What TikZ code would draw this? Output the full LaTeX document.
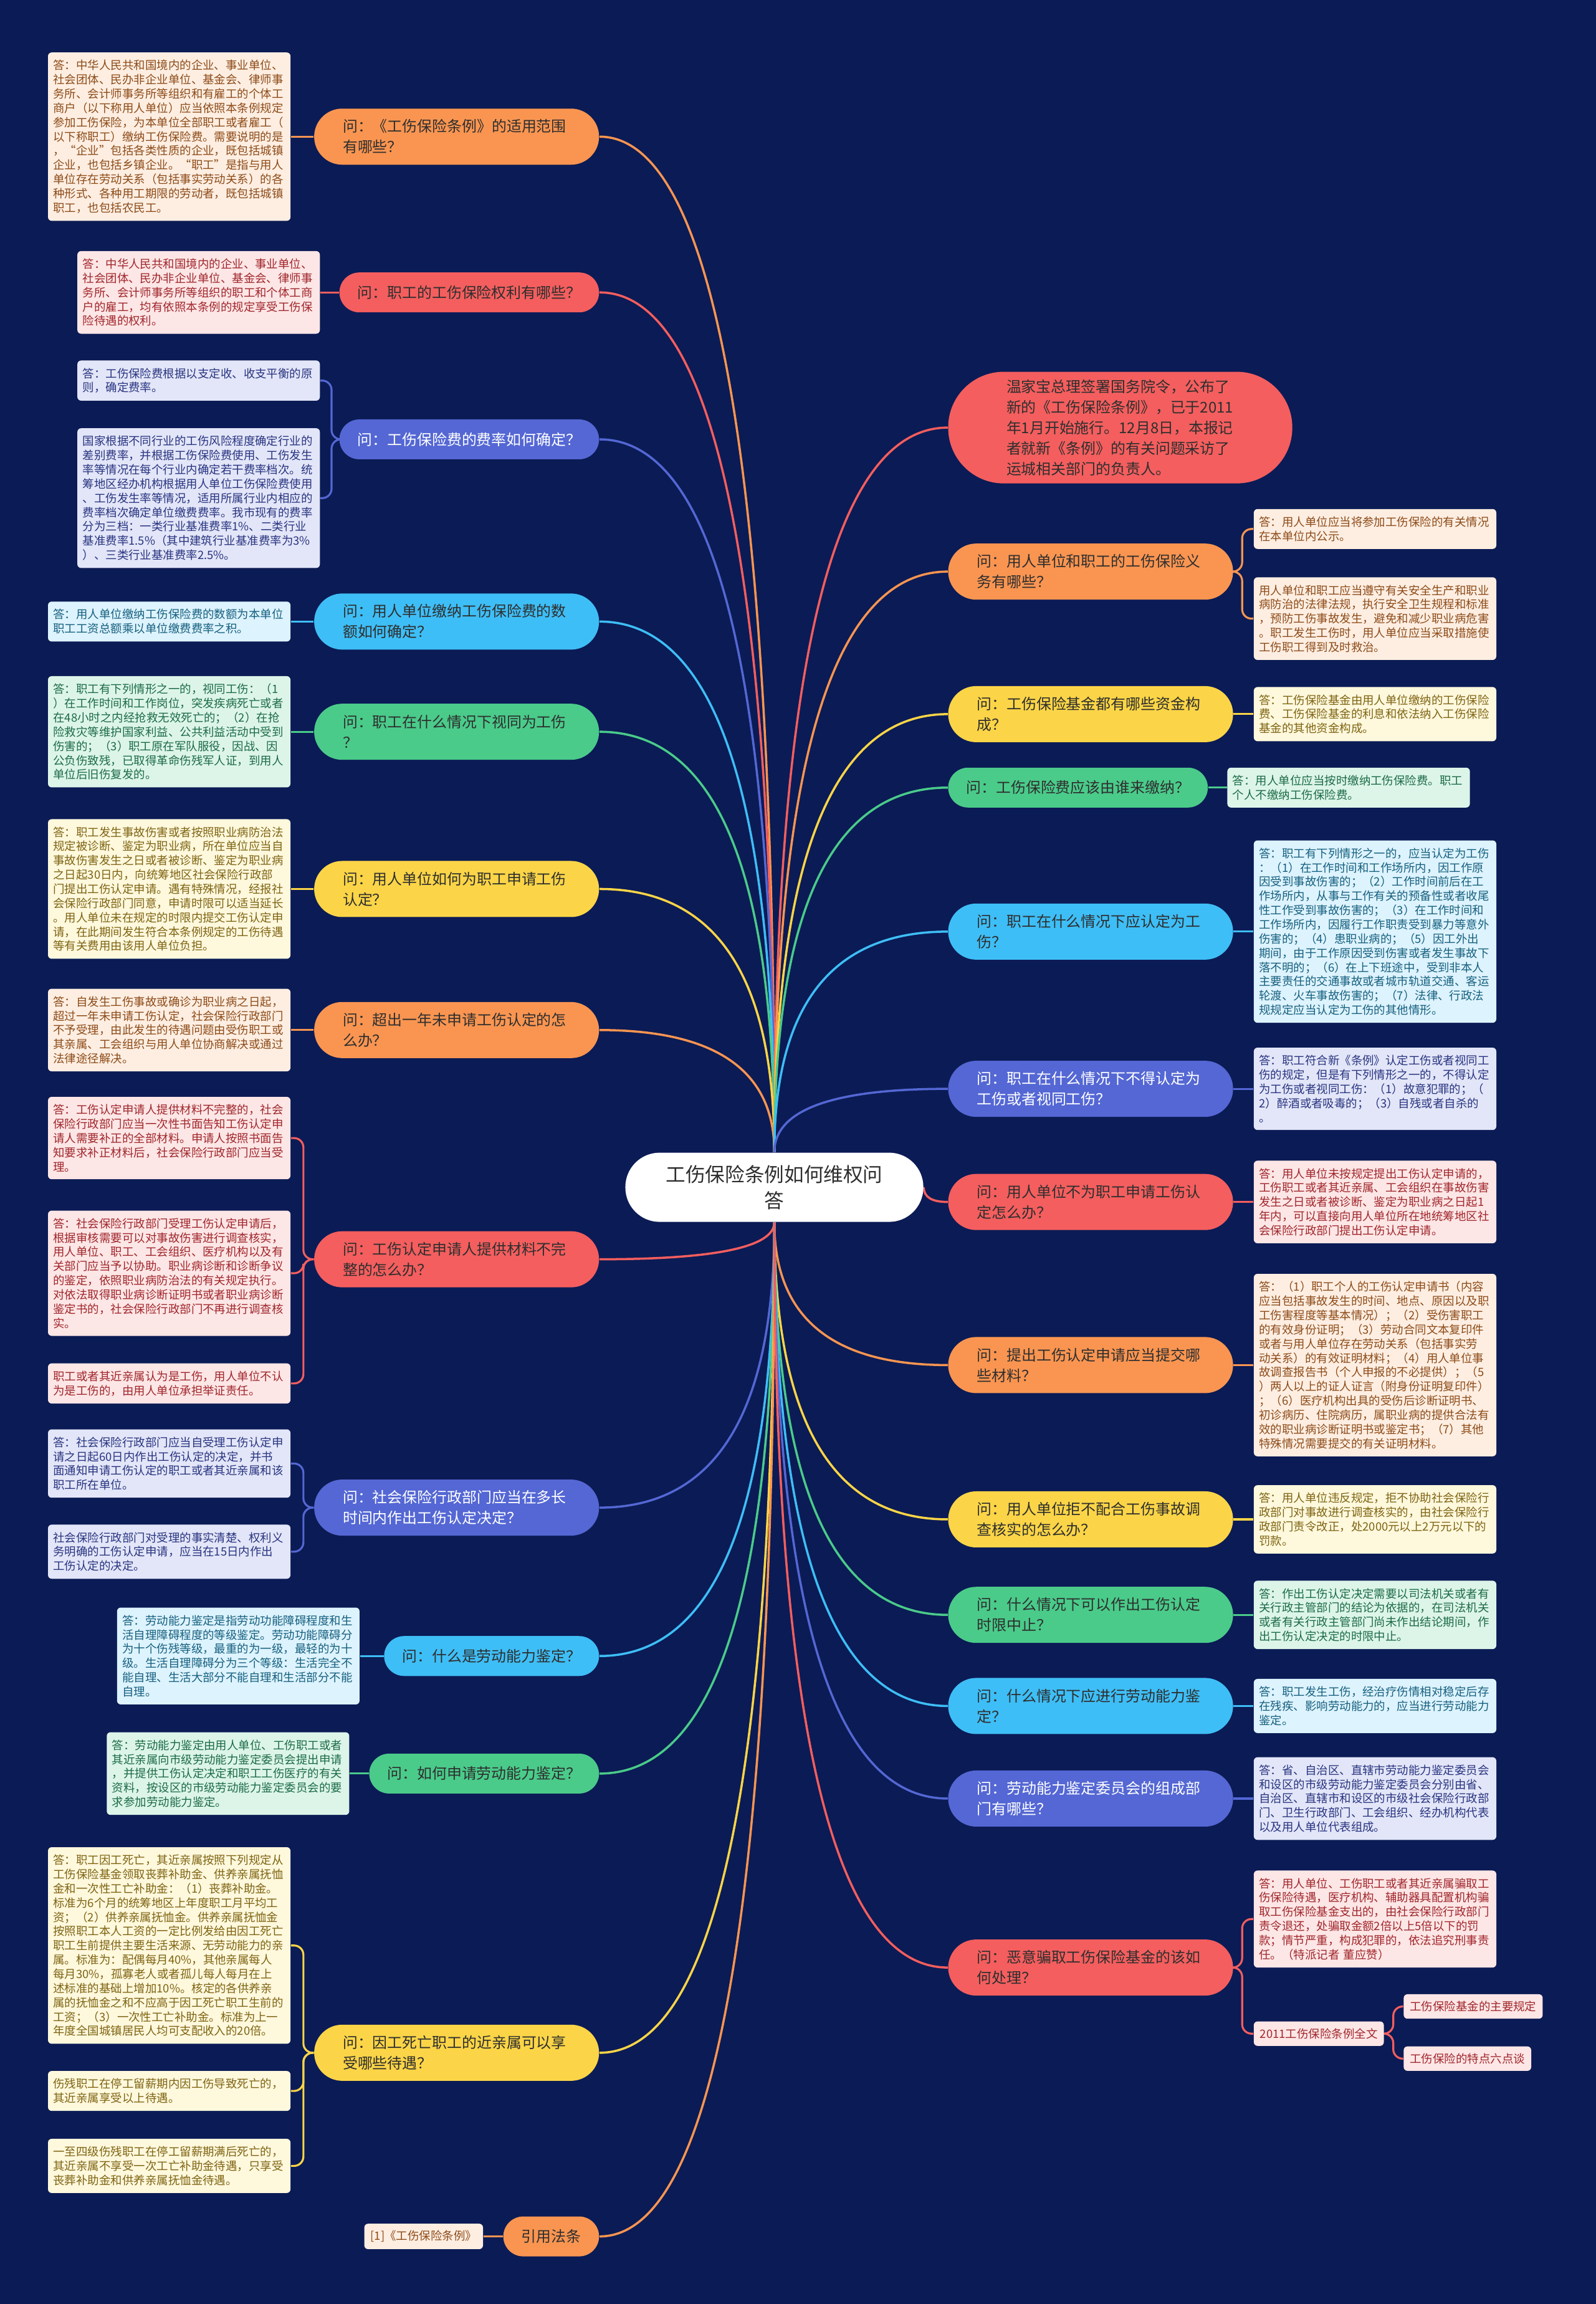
\documentclass[tikz,border=0pt]{standalone}
\usepackage{fontspec}
\setmainfont{Noto Sans CJK SC}
\usepackage{tikz}
\usetikzlibrary{positioning,calc,backgrounds}
\pgfdeclarelayer{canvas}
\pgfsetlayers{canvas,background,main}

\definecolor{navy}{HTML}{0B1B55}
\definecolor{asktext}{HTML}{2E2E2E}
\definecolor{qorange}{HTML}{F99551}
\definecolor{qred}{HTML}{F45E5E}
\definecolor{qindigo}{HTML}{5467D4}
\definecolor{qsky}{HTML}{3EBEF6}
\definecolor{qgreen}{HTML}{4ACB8A}
\definecolor{qyellow}{HTML}{FBD547}
\definecolor{aorange}{HTML}{FEEEE2}
\definecolor{ared}{HTML}{FDE6E6}
\definecolor{aindigo}{HTML}{E3E6F8}
\definecolor{asky}{HTML}{DDF3FD}
\definecolor{agreen}{HTML}{DDF5E9}
\definecolor{ayellow}{HTML}{FEF8DD}
\definecolor{torange}{HTML}{8C4B18}
\definecolor{tred}{HTML}{A0262B}
\definecolor{tindigo}{HTML}{283480}
\definecolor{tsky}{HTML}{16607F}
\definecolor{tgreen}{HTML}{1C6B46}
\definecolor{tyellow}{HTML}{7E6412}

\newcommand{\rootfont}{\fontsize{9pt}{12pt}\selectfont}
\newcommand{\askfont}{\fontsize{6.8pt}{9.4pt}\selectfont}
\newcommand{\ansfont}{\fontsize{5.25pt}{6.5pt}\selectfont}

\begin{document}
\begin{tikzpicture}[x=0.2357mm, y=-0.2357mm,
    root/.style={rectangle,rounded corners=5.5mm,fill=white,text=asktext,font=\rootfont,
      align=center,text width=37mm,minimum width=47.8mm,minimum height=11.1mm},
    ask/.style={rectangle,rounded corners=4.5mm,minimum height=9mm,text width=36.5mm,
      inner xsep=4.6mm,align=left,font=\askfont,text=asktext,fill=q#1},
    askone/.style={rectangle,rounded corners=3.2mm,minimum height=6.4mm,inner xsep=2.9mm,
      font=\askfont,text=asktext,fill=q#1},
    ans/.style={rectangle,rounded corners=0.6mm,text width=37.2mm,inner xsep=0.85mm,
      inner ysep=1.2mm,align=left,font=\ansfont,fill=a#1,text=t#1},
    tag/.style={rectangle,rounded corners=0.6mm,inner xsep=1mm,inner ysep=1.1mm,
      font=\ansfont,fill=a#1,text=t#1},
    branch/.style={draw=q#1,line width=1pt,
      to path={.. controls ($(\tikztostart)!.667!(\tikztostart |- \tikztotarget)$)
        and ($(\tikztotarget)!.667!(\tikztotarget -| \tikztostart)$) .. (\tikztotarget)}},
    leaf/.style={draw=q#1,line width=0.9pt,rounded corners=1.5mm},
  ]
  \useasboundingbox (0,0) rectangle (1086,1568);
  \begin{pgfonlayer}{canvas}
    \fill[navy] (0,0) rectangle (1086,1568);
  \end{pgfonlayer}

  \node[root] (root) at (527,808) {工伤保险条例如何维权问\\答};

  % left questions
  \node[ask=orange,anchor=east] (ql1) at (408,93) {问：《工伤保险条例》的适用范围\\有哪些？};
  \node[askone=red,anchor=east] (ql2) at (408,199) {问：职工的工伤保险权利有哪些？};
  \node[askone=indigo,text=white,anchor=east] (ql3) at (408,299) {问：工伤保险费的费率如何确定？};
  \node[ask=sky,anchor=east] (ql4) at (408,423) {问：用人单位缴纳工伤保险费的数\\额如何确定？};
  \node[ask=green,anchor=east] (ql5) at (408,498) {问：职工在什么情况下视同为工伤\\？};
  \node[ask=yellow,anchor=east] (ql6) at (408,605) {问：用人单位如何为职工申请工伤\\认定？};
  \node[ask=orange,anchor=east] (ql7) at (408,701) {问：超出一年未申请工伤认定的怎\\么办？};
  \node[ask=red,anchor=east] (ql8) at (408,857) {问：工伤认定申请人提供材料不完\\整的怎么办？};
  \node[ask=indigo,text=white,anchor=east] (ql9) at (408,1026) {问：社会保险行政部门应当在多长\\时间内作出工伤认定决定？};
  \node[askone=sky,anchor=east] (ql10) at (408,1127) {问：什么是劳动能力鉴定？};
  \node[askone=green,anchor=east] (ql11) at (408,1207) {问：如何申请劳动能力鉴定？};
  \node[ask=yellow,anchor=east] (ql12) at (408,1397) {问：因工死亡职工的近亲属可以享\\受哪些待遇？};
  \node[askone=orange,anchor=east] (ql13) at (408,1522) {引用法条};

  % right questions
  \node[ask=red,anchor=west,minimum width=55.2mm,minimum height=17.9mm,rounded corners=8.9mm] (qr0) at (645,291)
    {温家宝总理签署国务院令，公布了\\新的《工伤保险条例》，已于2011\\年1月开始施行。12月8日，本报记\\者就新《条例》的有关问题采访了\\运城相关部门的负责人。};
  \node[ask=orange,anchor=west] (qr1) at (645,389) {问：用人单位和职工的工伤保险义\\务有哪些？};
  \node[ask=yellow,anchor=west] (qr2) at (645,486) {问：工伤保险基金都有哪些资金构\\成？};
  \node[askone=green,anchor=west] (qr3) at (645,536) {问：工伤保险费应该由谁来缴纳？};
  \node[ask=sky,anchor=west] (qr4) at (645,634) {问：职工在什么情况下应认定为工\\伤？};
  \node[ask=indigo,text=white,anchor=west] (qr5) at (645,741) {问：职工在什么情况下不得认定为\\工伤或者视同工伤？};
  \node[ask=red,anchor=west] (qr6) at (645,818) {问：用人单位不为职工申请工伤认\\定怎么办？};
  \node[ask=orange,anchor=west] (qr7) at (645,929) {问：提出工伤认定申请应当提交哪\\些材料？};
  \node[ask=yellow,anchor=west] (qr8) at (645,1034) {问：用人单位拒不配合工伤事故调\\查核实的怎么办？};
  \node[ask=green,anchor=west] (qr9) at (645,1099) {问：什么情况下可以作出工伤认定\\时限中止？};
  \node[ask=sky,anchor=west] (qr10) at (645,1161) {问：什么情况下应进行劳动能力鉴\\定？};
  \node[ask=indigo,text=white,anchor=west] (qr11) at (645,1224) {问：劳动能力鉴定委员会的组成部\\门有哪些？};
  \node[ask=red,anchor=west] (qr12) at (645,1339) {问：恶意骗取工伤保险基金的该如\\何处理？};

  % left answers
  \node[ans=orange,anchor=east] (al1) at (198,93) {答：中华人民共和国境内的企业、事业单位、\\社会团体、民办非企业单位、基金会、律师事\\务所、会计师事务所等组织和有雇工的个体工\\商户（以下称用人单位）应当依照本条例规定\\参加工伤保险，为本单位全部职工或者雇工（\\以下称职工）缴纳工伤保险费。需要说明的是\\，“企业”包括各类性质的企业，既包括城镇\\企业，也包括乡镇企业。“职工”是指与用人\\单位存在劳动关系（包括事实劳动关系）的各\\种形式、各种用工期限的劳动者，既包括城镇\\职工，也包括农民工。};
  \node[ans=red,anchor=east] (al2) at (218,199) {答：中华人民共和国境内的企业、事业单位、\\社会团体、民办非企业单位、基金会、律师事\\务所、会计师事务所等组织的职工和个体工商\\户的雇工，均有依照本条例的规定享受工伤保\\险待遇的权利。};
  \node[ans=indigo,anchor=east] (al3a) at (218,259) {答：工伤保险费根据以支定收、收支平衡的原\\则，确定费率。};
  \node[ans=indigo,anchor=east] (al3b) at (218,339) {国家根据不同行业的工伤风险程度确定行业的\\差别费率，并根据工伤保险费使用、工伤发生\\率等情况在每个行业内确定若干费率档次。统\\筹地区经办机构根据用人单位工伤保险费使用\\、工伤发生率等情况，适用所属行业内相应的\\费率档次确定单位缴费费率。我市现有的费率\\分为三档：一类行业基准费率1\%、二类行业\\基准费率1.5\%（其中建筑行业基准费率为3\%\\）、三类行业基准费率2.5\%。};
  \node[ans=sky,anchor=east] (al4) at (198,423) {答：用人单位缴纳工伤保险费的数额为本单位\\职工工资总额乘以单位缴费费率之积。};
  \node[ans=green,anchor=east] (al5) at (198,498) {答：职工有下列情形之一的，视同工伤：（1\\）在工作时间和工作岗位，突发疾病死亡或者\\在48小时之内经抢救无效死亡的；（2）在抢\\险救灾等维护国家利益、公共利益活动中受到\\伤害的；（3）职工原在军队服役，因战、因\\公负伤致残，已取得革命伤残军人证，到用人\\单位后旧伤复发的。};
  \node[ans=yellow,anchor=east] (al6) at (198,605) {答：职工发生事故伤害或者按照职业病防治法\\规定被诊断、鉴定为职业病，所在单位应当自\\事故伤害发生之日或者被诊断、鉴定为职业病\\之日起30日内，向统筹地区社会保险行政部\\门提出工伤认定申请。遇有特殊情况，经报社\\会保险行政部门同意，申请时限可以适当延长\\。用人单位未在规定的时限内提交工伤认定申\\请，在此期间发生符合本条例规定的工伤待遇\\等有关费用由该用人单位负担。};
  \node[ans=orange,anchor=east] (al7) at (198,701) {答：自发生工伤事故或确诊为职业病之日起，\\超过一年未申请工伤认定，社会保险行政部门\\不予受理，由此发生的待遇问题由受伤职工或\\其亲属、工会组织与用人单位协商解决或通过\\法律途径解决。};
  \node[ans=red,anchor=east] (al8a) at (198,774.5) {答：工伤认定申请人提供材料不完整的，社会\\保险行政部门应当一次性书面告知工伤认定申\\请人需要补正的全部材料。申请人按照书面告\\知要求补正材料后，社会保险行政部门应当受\\理。};
  \node[ans=red,anchor=east] (al8b) at (198,866.5) {答：社会保险行政部门受理工伤认定申请后，\\根据审核需要可以对事故伤害进行调查核实，\\用人单位、职工、工会组织、医疗机构以及有\\关部门应当予以协助。职业病诊断和诊断争议\\的鉴定，依照职业病防治法的有关规定执行。\\对依法取得职业病诊断证明书或者职业病诊断\\鉴定书的，社会保险行政部门不再进行调查核\\实。};
  \node[ans=red,anchor=east] (al8c) at (198,941.5) {职工或者其近亲属认为是工伤，用人单位不认\\为是工伤的，由用人单位承担举证责任。};
  \node[ans=indigo,anchor=east] (al9a) at (198,996) {答：社会保险行政部门应当自受理工伤认定申\\请之日起60日内作出工伤认定的决定，并书\\面通知申请工伤认定的职工或者其近亲属和该\\职工所在单位。};
  \node[ans=indigo,anchor=east] (al9b) at (198,1056) {社会保险行政部门对受理的事实清楚、权利义\\务明确的工伤认定申请，应当在15日内作出\\工伤认定的决定。};
  \node[ans=sky,anchor=east] (al10) at (245,1127) {答：劳动能力鉴定是指劳动功能障碍程度和生\\活自理障碍程度的等级鉴定。劳动功能障碍分\\为十个伤残等级，最重的为一级，最轻的为十\\级。生活自理障碍分为三个等级：生活完全不\\能自理、生活大部分不能自理和生活部分不能\\自理。};
  \node[ans=green,anchor=east] (al11) at (238,1207) {答：劳动能力鉴定由用人单位、工伤职工或者\\其近亲属向市级劳动能力鉴定委员会提出申请\\，并提供工伤认定决定和职工工伤医疗的有关\\资料，按设区的市级劳动能力鉴定委员会的要\\求参加劳动能力鉴定。};
  \node[ans=yellow,anchor=east] (al12a) at (198,1324) {答：职工因工死亡，其近亲属按照下列规定从\\工伤保险基金领取丧葬补助金、供养亲属抚恤\\金和一次性工亡补助金：（1）丧葬补助金。\\标准为6个月的统筹地区上年度职工月平均工\\资；（2）供养亲属抚恤金。供养亲属抚恤金\\按照职工本人工资的一定比例发给由因工死亡\\职工生前提供主要生活来源、无劳动能力的亲\\属。标准为：配偶每月40\%，其他亲属每人\\每月30\%，孤寡老人或者孤儿每人每月在上\\述标准的基础上增加10\%。核定的各供养亲\\属的抚恤金之和不应高于因工死亡职工生前的\\工资；（3）一次性工亡补助金。标准为上一\\年度全国城镇居民人均可支配收入的20倍。};
  \node[ans=yellow,anchor=east] (al12b) at (198,1423) {伤残职工在停工留薪期内因工伤导致死亡的，\\其近亲属享受以上待遇。};
  \node[ans=yellow,anchor=east] (al12c) at (198,1474) {一至四级伤残职工在停工留薪期满后死亡的，\\其近亲属不享受一次工亡补助金待遇，只享受\\丧葬补助金和供养亲属抚恤金待遇。};
  \node[tag=orange,anchor=east] (al13) at (329,1522) {[1]《工伤保险条例》};

  % right answers
  \node[ans=orange,anchor=west] (ar1a) at (853,360) {答：用人单位应当将参加工伤保险的有关情况\\在本单位内公示。};
  \node[ans=orange,anchor=west] (ar1b) at (853,421) {用人单位和职工应当遵守有关安全生产和职业\\病防治的法律法规，执行安全卫生规程和标准\\，预防工伤事故发生，避免和减少职业病危害\\。职工发生工伤时，用人单位应当采取措施使\\工伤职工得到及时救治。};
  \node[ans=yellow,anchor=west] (ar2) at (853,486) {答：工伤保险基金由用人单位缴纳的工伤保险\\费、工伤保险基金的利息和依法纳入工伤保险\\基金的其他资金构成。};
  \node[ans=green,anchor=west] (ar3) at (835,536) {答：用人单位应当按时缴纳工伤保险费。职工\\个人不缴纳工伤保险费。};
  \node[ans=sky,anchor=west] (ar4) at (853,634) {答：职工有下列情形之一的，应当认定为工伤\\：（1）在工作时间和工作场所内，因工作原\\因受到事故伤害的；（2）工作时间前后在工\\作场所内，从事与工作有关的预备性或者收尾\\性工作受到事故伤害的；（3）在工作时间和\\工作场所内，因履行工作职责受到暴力等意外\\伤害的；（4）患职业病的；（5）因工外出\\期间，由于工作原因受到伤害或者发生事故下\\落不明的；（6）在上下班途中，受到非本人\\主要责任的交通事故或者城市轨道交通、客运\\轮渡、火车事故伤害的；（7）法律、行政法\\规规定应当认定为工伤的其他情形。};
  \node[ans=indigo,anchor=west] (ar5) at (853,741) {答：职工符合新《条例》认定工伤或者视同工\\伤的规定，但是有下列情形之一的，不得认定\\为工伤或者视同工伤：（1）故意犯罪的；（\\2）醉酒或者吸毒的；（3）自残或者自杀的\\。};
  \node[ans=red,anchor=west] (ar6) at (853,818) {答：用人单位未按规定提出工伤认定申请的，\\工伤职工或者其近亲属、工会组织在事故伤害\\发生之日或者被诊断、鉴定为职业病之日起1\\年内，可以直接向用人单位所在地统筹地区社\\会保险行政部门提出工伤认定申请。};
  \node[ans=orange,anchor=west] (ar7) at (853,929) {答：（1）职工个人的工伤认定申请书（内容\\应当包括事故发生的时间、地点、原因以及职\\工伤害程度等基本情况）；（2）受伤害职工\\的有效身份证明；（3）劳动合同文本复印件\\或者与用人单位存在劳动关系（包括事实劳\\动关系）的有效证明材料；（4）用人单位事\\故调查报告书（个人申报的不必提供）；（5\\）两人以上的证人证言（附身份证明复印件）\\；（6）医疗机构出具的受伤后诊断证明书、\\初诊病历、住院病历，属职业病的提供合法有\\效的职业病诊断证明书或鉴定书；（7）其他\\特殊情况需要提交的有关证明材料。};
  \node[ans=yellow,anchor=west] (ar8) at (853,1034) {答：用人单位违反规定，拒不协助社会保险行\\政部门对事故进行调查核实的，由社会保险行\\政部门责令改正，处2000元以上2万元以下的\\罚款。};
  \node[ans=green,anchor=west] (ar9) at (853,1099) {答：作出工伤认定决定需要以司法机关或者有\\关行政主管部门的结论为依据的，在司法机关\\或者有关行政主管部门尚未作出结论期间，作\\出工伤认定决定的时限中止。};
  \node[ans=sky,anchor=west] (ar10) at (853,1161) {答：职工发生工伤，经治疗伤情相对稳定后存\\在残疾、影响劳动能力的，应当进行劳动能力\\鉴定。};
  \node[ans=indigo,anchor=west] (ar11) at (853,1224) {答：省、自治区、直辖市劳动能力鉴定委员会\\和设区的市级劳动能力鉴定委员会分别由省、\\自治区、直辖市和设区的市级社会保险行政部\\门、卫生行政部门、工会组织、经办机构代表\\以及用人单位代表组成。};
  \node[ans=red,anchor=west] (ar12a) at (853,1306) {答：用人单位、工伤职工或者其近亲属骗取工\\伤保险待遇，医疗机构、辅助器具配置机构骗\\取工伤保险基金支出的，由社会保险行政部门\\责令退还，处骗取金额2倍以上5倍以下的罚\\款；情节严重，构成犯罪的，依法追究刑事责\\任。（特派记者 董应赞）};
  \node[tag=red,anchor=west] (ar12b) at (853,1384) {2011工伤保险条例全文};
  \node[tag=red,anchor=west] (ar12c) at (955,1365.5) {工伤保险基金的主要规定};
  \node[tag=red,anchor=west] (ar12d) at (955,1401) {工伤保险的特点六点谈};

  \begin{scope}[on background layer]
    % center to questions
    \draw[branch=orange] (root.north) to (ql1.east);
    \draw[branch=red] (root.north) to (ql2.east);
    \draw[branch=indigo] (root.north) to (ql3.east);
    \draw[branch=sky] (root.north) to (ql4.east);
    \draw[branch=green] (root.north) to (ql5.east);
    \draw[branch=yellow] (root.north) to (ql6.east);
    \draw[branch=orange] (root.north) to (ql7.east);
    \draw[branch=red] (root.south) to (ql8.east);
    \draw[branch=indigo] (root.south) to (ql9.east);
    \draw[branch=sky] (root.south) to (ql10.east);
    \draw[branch=green] (root.south) to (ql11.east);
    \draw[branch=yellow] (root.south) to (ql12.east);
    \draw[branch=orange] (root.south) to (ql13.east);
    \draw[branch=red] (root.north) to (qr0.west);
    \draw[branch=orange] (root.north) to (qr1.west);
    \draw[branch=yellow] (root.north) to (qr2.west);
    \draw[branch=green] (root.north) to (qr3.west);
    \draw[branch=sky] (root.north) to (qr4.west);
    \draw[branch=indigo] (root.north) to (qr5.west);
    \draw[branch=red] (root.east) to (qr6.west);
    \draw[branch=orange] (root.south) to (qr7.west);
    \draw[branch=yellow] (root.south) to (qr8.west);
    \draw[branch=green] (root.south) to (qr9.west);
    \draw[branch=sky] (root.south) to (qr10.west);
    \draw[branch=indigo] (root.south) to (qr11.west);
    \draw[branch=red] (root.south) to (qr12.west);
    % questions to answers
    \draw[leaf=orange] (ql1.west) -- (al1.east);
    \draw[leaf=red] (ql2.west) -- (al2.east);
    \draw[leaf=indigo] (ql3.west) -| ([xshift=1.8mm]al3a.east) -- (al3a.east);
    \draw[leaf=indigo] (ql3.west) -| ([xshift=1.8mm]al3b.east) -- (al3b.east);
    \draw[leaf=sky] (ql4.west) -- (al4.east);
    \draw[leaf=green] (ql5.west) -- (al5.east);
    \draw[leaf=yellow] (ql6.west) -- (al6.east);
    \draw[leaf=orange] (ql7.west) -- (al7.east);
    \draw[leaf=red] (ql8.west) -| ([xshift=2mm]al8a.east) -- (al8a.east);
    \draw[leaf=red] (ql8.west) -| ([xshift=2mm]al8b.east) -- (al8b.east);
    \draw[leaf=red] (ql8.west) -| ([xshift=2mm]al8c.east) -- (al8c.east);
    \draw[leaf=indigo] (ql9.west) -| ([xshift=2mm]al9a.east) -- (al9a.east);
    \draw[leaf=indigo] (ql9.west) -| ([xshift=2mm]al9b.east) -- (al9b.east);
    \draw[leaf=sky] (ql10.west) -- (al10.east);
    \draw[leaf=green] (ql11.west) -- (al11.east);
    \draw[leaf=yellow] (ql12.west) -| ([xshift=2mm]al12a.east) -- (al12a.east);
    \draw[leaf=yellow] (ql12.west) -| ([xshift=2mm]al12b.east) -- (al12b.east);
    \draw[leaf=yellow] (ql12.west) -| ([xshift=2mm]al12c.east) -- (al12c.east);
    \draw[leaf=orange] (ql13.west) -- (al13.east);
    \draw[leaf=orange] (qr1.east) -| ([xshift=-1.8mm]ar1a.west) -- (ar1a.west);
    \draw[leaf=orange] (qr1.east) -| ([xshift=-1.8mm]ar1b.west) -- (ar1b.west);
    \draw[leaf=yellow] (qr2.east) -- (ar2.west);
    \draw[leaf=green] (qr3.east) -- (ar3.west);
    \draw[leaf=sky] (qr4.east) -- (ar4.west);
    \draw[leaf=indigo] (qr5.east) -- (ar5.west);
    \draw[leaf=red] (qr6.east) -- (ar6.west);
    \draw[leaf=orange] (qr7.east) -- (ar7.west);
    \draw[leaf=yellow] (qr8.east) -- (ar8.west);
    \draw[leaf=green] (qr9.east) -- (ar9.west);
    \draw[leaf=sky] (qr10.east) -- (ar10.west);
    \draw[leaf=indigo] (qr11.east) -- (ar11.west);
    \draw[leaf=red] (qr12.east) -| ([xshift=-1.8mm]ar12a.west) -- (ar12a.west);
    \draw[leaf=red] (qr12.east) -| ([xshift=-1.8mm]ar12b.west) -- (ar12b.west);
    \draw[leaf=red] (ar12b.east) -| ([xshift=-1.6mm]ar12c.west) -- (ar12c.west);
    \draw[leaf=red] (ar12b.east) -| ([xshift=-1.6mm]ar12d.west) -- (ar12d.west);
  \end{scope}
\end{tikzpicture}
\end{document}
